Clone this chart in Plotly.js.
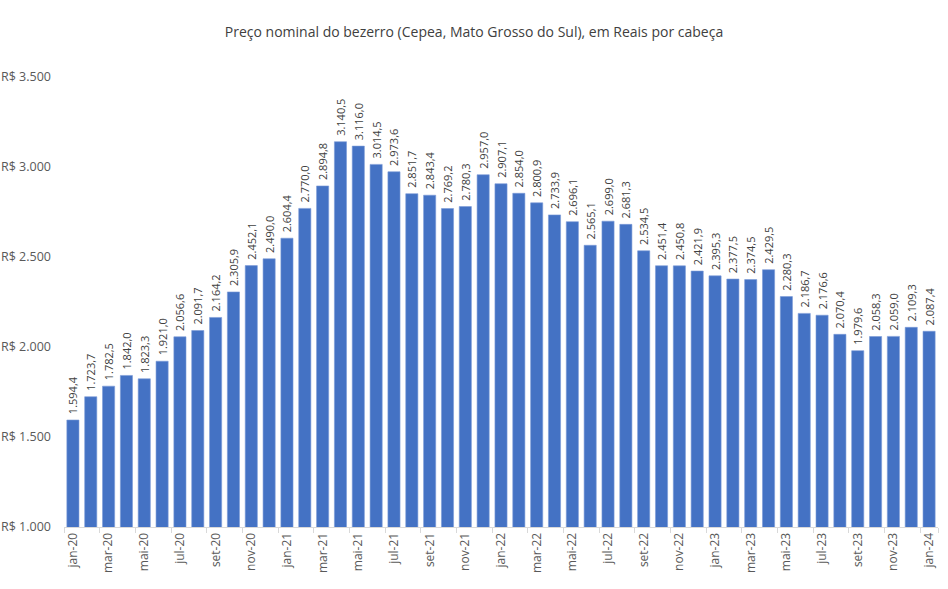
<!DOCTYPE html>
<html>
<head>
<meta charset="utf-8">
<script src="https://cdn.plot.ly/plotly-3.0.1.min.js"></script>
<style>html,body{margin:0;padding:0;background:#fff;}#chart{width:948px;height:589px;}</style>
</head>
<body>
<div id="chart"></div>
<script>
const months = ["jan","fev","mar","abr","mai","jun","jul","ago","set","out","nov","dez"];
const years = ["20","21","22","23","24"];
const categories = [];
for (const y of years) for (const m of months) { if (categories.length < 49) categories.push(m + "-" + y); }
const prices = [
  1594.4, 1723.7, 1782.5, 1842.0, 1823.3, 1921.0, 2056.6, 2091.7, 2164.2, 2305.9, 2452.1, 2490.0,
  2604.4, 2770.0, 2894.8, 3140.5, 3116.0, 3014.5, 2973.6, 2851.7, 2843.4, 2769.2, 2780.3, 2957.0,
  2907.1, 2854.0, 2800.9, 2733.9, 2696.1, 2565.1, 2699.0, 2681.3, 2534.5, 2451.4, 2450.8, 2421.9,
  2395.3, 2377.5, 2374.5, 2429.5, 2280.3, 2186.7, 2176.6, 2070.4, 1979.6, 2058.3, 2059.0, 2109.3,
  2087.4
];
const tickLabels = categories.filter((c, i) => i % 2 === 0);
const yTicks = [1000, 1500, 2000, 2500, 3000, 3500];
const yTickText = ["R$ 1.000", "R$ 1.500", "R$ 2.000", "R$ 2.500", "R$ 3.000", "R$ 3.500"];

const trace = {
  type: "bar",
  x: categories,
  y: prices,
  marker: {color: "#4472C4", line: {color: "#7a9bd6", width: 0.6}},
  texttemplate: " %{y:,.1f}",
  textposition: "outside",
  textangle: -90,
  constraintext: "none",
  textfont: {family: "'Open Sans', Lato, sans-serif", size: 11, color: "#404040"},
  cliponaxis: false,
  hoverinfo: "x+y"
};

const layout = {
  width: 948, height: 589,
  margin: {l: 64, r: 10, t: 77, b: 62},
  paper_bgcolor: "#ffffff", plot_bgcolor: "#ffffff",
  separators: ",.",
  bargap: 0.32,
  font: {family: "'Open Sans', Lato, sans-serif", color: "#595959"},
  title: {
    text: "Preço nominal do bezerro (Cepea, Mato Grosso do Sul), em Reais por cabeça",
    font: {family: "'Open Sans', Lato, sans-serif", size: 14, color: "#404040"},
    x: 0.5, xanchor: "center", y: 0.945, yanchor: "middle"
  },
  xaxis: {
    type: "category",
    tickmode: "array",
    tickvals: tickLabels,
    ticktext: tickLabels,
    tickangle: -90,
    tickfont: {size: 12, color: "#595959"},
    showline: true, linecolor: "#d9d9d9", linewidth: 1,
    ticks: "outside", ticklen: 5, tickcolor: "#d9d9d9",
    tickson: "boundaries",
    showgrid: false, zeroline: false
  },
  yaxis: {
    range: [1000, 3500],
    tickmode: "array",
    tickvals: yTicks,
    ticktext: yTickText,
    tickfont: {size: 12.5, color: "#595959"},
    showgrid: false, zeroline: false, showline: false,
    ticks: "", ticklabelstandoff: 12
  },
  showlegend: false
};

Plotly.newPlot("chart", [trace], layout, {displayModeBar: false, staticPlot: true});
</script>
</body>
</html>
